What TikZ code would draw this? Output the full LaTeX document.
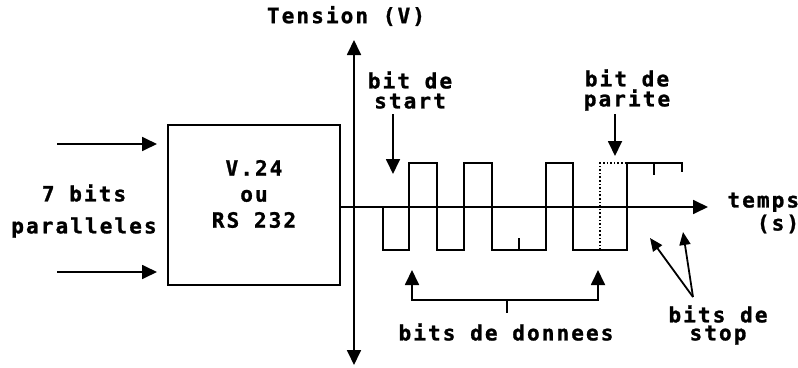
\documentclass[tikz,border=0pt]{standalone}
\usepackage{fontspec}
\usetikzlibrary{arrows.meta}
\newfontfamily\pix[LetterSpace=10,FakeBold=1.2]{DejaVu Sans Mono Bold}
\begin{document}
\begin{tikzpicture}[x=1pt,y=-1pt,line width=1.8pt,line join=miter,
  >={Triangle[length=15pt,width=14pt]},
  small/.style={-{Triangle[length=13pt,width=11pt]}},
  lbl/.style={font=\pix\fontsize{21}{20}\selectfont, inner sep=0pt, align=center}]
\useasboundingbox (0,0) rectangle (798,367);
% box
\node[draw, line width=2pt, minimum width=172pt, minimum height=160pt, inner sep=0pt] (box) at (254,205) {};
\node[lbl, font=\pix\fontsize{21}{26}\selectfont] (boxtxt) at (254,194) {V.24\\ou\\RS 232};
% inputs
\coordinate (in1) at (57,144);
\coordinate (in2) at (57,272);
\draw[->, shorten >=10pt] (in1) -- (box.west |- in1);
\draw[->, shorten >=10pt] (in2) -- (box.west |- in2);
\node[lbl, font=\pix\fontsize{21}{32}\selectfont] (par) at (84,211) {7 bits\\paralleles};
% axes
\coordinate (O) at (354,207);
\coordinate (vtop) at (354,40);
\coordinate (vbot) at (354,365);
\coordinate (hend) at (708,207);
\draw[<->] (vtop) -- (vbot);
\draw[->] (box.east |- O) -- (hend);
\node[lbl] (tension) at (346,16) {Tension (V)};
\node[lbl, align=right, font=\pix\fontsize{21}{23}\selectfont, anchor=east] (temps) at (800,213) {temps\\(s)};
% signal
\draw[line width=1.6pt] (383,207) -- (383,250) -- (409,250) -- (409,163) -- (437,163) -- (437,250)
  -- (464,250) -- (464,163) -- (492,163) -- (492,250) -- (546,250) -- (546,163) -- (573,163)
  -- (573,250) -- (627,250) -- (627,163) -- (682,163) -- (682,172);
\draw[line width=1.6pt] (519,250) -- (519,238);
\draw[line width=1.6pt] (654,163) -- (654,175);
\draw[line width=1.6pt, dotted] (600,250) -- (600,163) -- (627,163);
% start bit
\node[lbl] (start) at (410,90) {bit de\\start};
\coordinate (st1) at (393,114);
\coordinate (st2) at (393,174);
\draw[->] (st1) -- (st2);
% parity bit
\node[lbl] (parite) at (627,90) {bit de\\parite};
\coordinate (pa1) at (615,114);
\coordinate (pa2) at (615,156);
\draw[->] (pa1) -- (pa2);
% data bits
\coordinate (d1) at (412,270);
\coordinate (d2) at (598,270);
\coordinate (dm) at (507,300);
\draw[<->] (d1) -- (d1 |- dm) -- (d2 |- dm) -- (d2);
\draw (dm) -- ++(0,13);
\node[lbl] (donnees) at (506,332) {bits de donnees};
% stop bits
\coordinate (sp) at (693,297);
\coordinate (s1) at (650,238);
\coordinate (s2) at (683,232);
\draw[small] (sp) -- (s1);
\draw[small] (sp) -- (s2);
\node[lbl, font=\pix\fontsize{21}{18}\selectfont] (stop) at (718,325) {bits de\\stop};
\end{tikzpicture}
\end{document}
